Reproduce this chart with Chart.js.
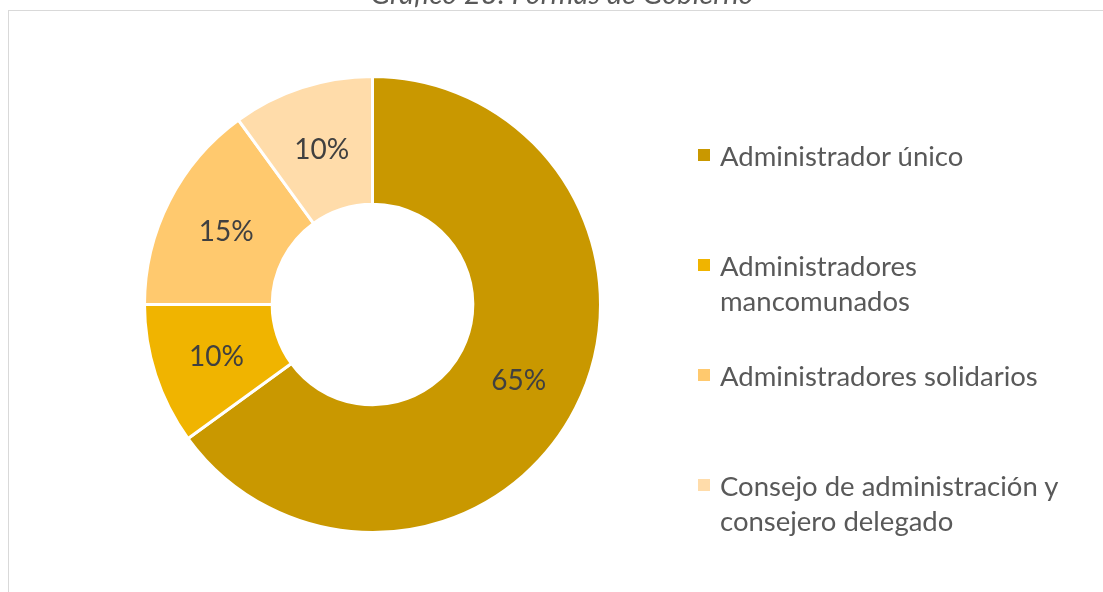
<!DOCTYPE html>
<html lang="es">
<head>
<meta charset="utf-8">
<title>Formas de Gobierno</title>
<script src="https://cdn.jsdelivr.net/npm/chart.js@4/dist/chart.umd.min.js"></script>
<style>
  html, body { margin: 0; padding: 0; background: #fff; }
  #wrap { position: relative; width: 1103px; height: 592px; overflow: hidden; }
  #frame { position: absolute; left: 8px; top: 10px; width: 1200px; height: 700px;
           border-left: 1px solid #d9d9d9; border-top: 1px solid #d9d9d9; }
  #chart { position: absolute; left: 0; top: 0; }
  #legend { position: absolute; left: 698px; top: 0; font-family: Lato, sans-serif;
            font-size: 27.5px; color: #595959; }
  .item { position: absolute; left: 0; display: flex; align-items: flex-start; white-space: nowrap; }
  .box { width: 12px; height: 12px; margin-top: 11.5px; margin-right: 10px; flex: none; }
  .txt { line-height: 35px; }
</style>
</head>
<body>
<div id="wrap">
  <div id="frame"></div>
  <canvas id="chart" width="1103" height="592"></canvas>
  <div id="legend"></div>
</div>
<script>
// 図のデータ
const chartTitle = 'Gráfico 23: Formas de Gobierno';
const categories = [
    ['Administrador único'],
    ['Administradores', 'mancomunados'],
    ['Administradores solidarios'],
    ['Consejo de administración y', 'consejero delegado']
];
const shares = [65, 10, 15, 10];
const sliceColors = ['#c99800', '#f0b400', '#ffc96e', '#ffdcaa'];

// 凡例 (HTML)
const legendEl = document.getElementById('legend');
categories.forEach((lines, i) => {
    const item = document.createElement('div');
    item.className = 'item';
    item.style.top = (137.5 + 110 * i) + 'px';
    item.innerHTML = `<span class="box" style="background:${sliceColors[i]}"></span>` +
        `<span class="txt">${lines.join('<br>')}</span>`;
    legendEl.appendChild(item);
});

// ラベルとタイトルの描画
const labelPlugin = {
    id: 'sliceLabels',
    afterDatasetsDraw(chart) {
        const ctx = chart.ctx;
        const meta = chart.getDatasetMeta(0);
        ctx.save();
        ctx.font = '28px Lato, sans-serif';
        ctx.fillStyle = '#404040';
        ctx.textAlign = 'center';
        ctx.textBaseline = 'middle';
        meta.data.forEach((arc, i) => {
            const p = arc.tooltipPosition();
            ctx.fillText(shares[i] + '%', p.x, p.y + 1.5);
        });
        // タイトル (上部で切れている)
        ctx.font = 'italic 29px Lato, sans-serif';
        ctx.fillStyle = '#595959';
        ctx.textBaseline = 'alphabetic';
        ctx.fillText(chartTitle, 562, 4);
        ctx.restore();
    }
};

const ctx = document.getElementById('chart').getContext('2d');
new Chart(ctx, {
    type: 'doughnut',
    data: {
        labels: categories,
        datasets: [{
            data: shares,
            backgroundColor: sliceColors,
            borderColor: '#ffffff',
            borderWidth: 3
        }]
    },
    options: {
        responsive: false,
        animation: false,
        cutout: '44%',
        layout: { padding: { left: 143, top: 75, right: 501, bottom: 58 } },
        plugins: {
            legend: { display: false },
            tooltip: { enabled: false }
        }
    },
    plugins: [labelPlugin]
});
</script>
</body>
</html>
